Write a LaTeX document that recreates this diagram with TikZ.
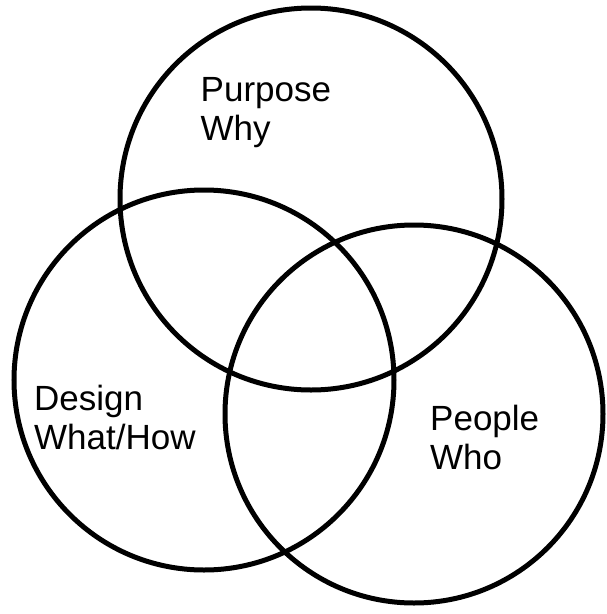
\documentclass[tikz,border=0pt]{standalone}
\usepackage{fontspec}
\setmainfont{Liberation Sans}
\usepackage{tikz}
\usetikzlibrary{positioning}

\begin{document}
\begin{tikzpicture}[
        x=1pt, y=-1pt,
        ring/.style={circle, draw=black, line width=5pt, inner sep=0pt},
        tag/.style={anchor=base west, align=left, inner sep=0pt,
          font=\fontsize{35}{39}\selectfont}
      ]
      \useasboundingbox (0,0) rectangle (606,614);
      % the three sets
      \node[ring, minimum size=382pt] (purpose) at (311,199) {};
      \node[ring, minimum size=380pt] (design)  at (204,380) {};
      \node[ring, minimum size=378pt] (people)  at (414,414) {};
      % names of the sets (base is the second line)
      \node[tag] (purposetxt) at (200.5,140) {Purpose\\Why};
      \node[tag] (designtxt)  at (34,449.5)  {Design\\What/How};
      \node[tag] (peopletxt)  at (430,469.5) {People\\Who};
    \end{tikzpicture}
\end{document}
